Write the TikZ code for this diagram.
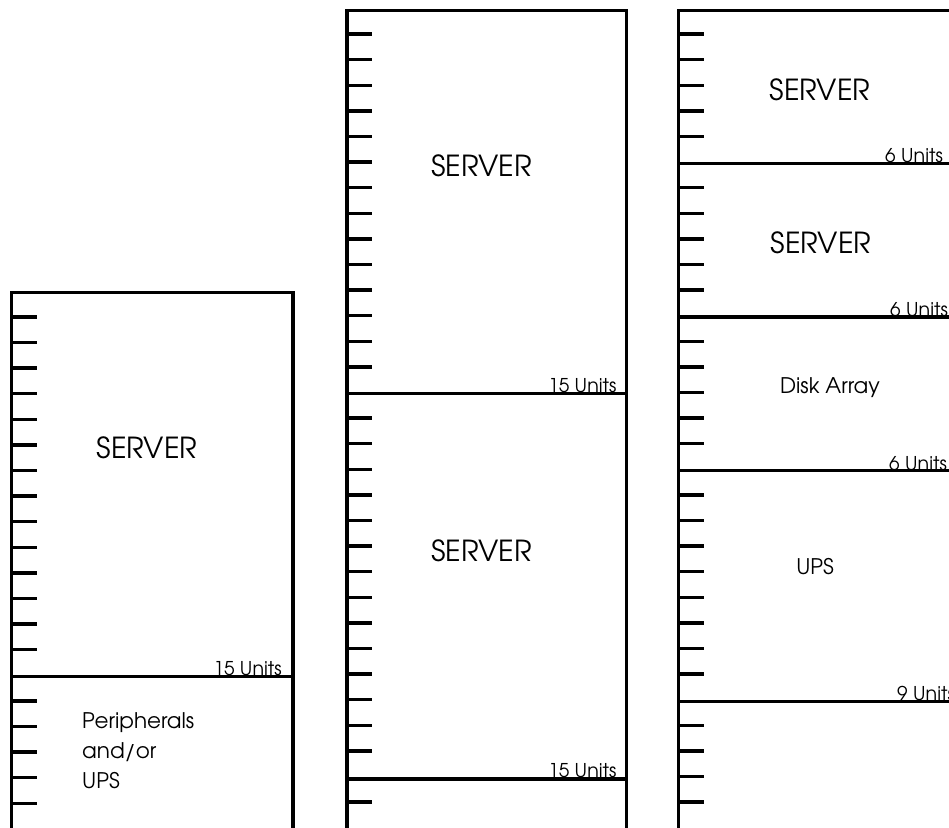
\documentclass[tikz,border=0pt]{standalone}
\usepackage{fontspec}
\setmainfont{TeX Gyre Adventor}
\begin{document}
\begin{tikzpicture}[x=1pt,y=-1pt,
  rack/.style={line width=3.3pt,line join=miter},
  tick/.style={line width=3.4pt},
  divider/.style={line width=3.3pt},
  big/.style={inner sep=0pt,anchor=base,font=\fontsize{29}{34}\selectfont},
  mid/.style={inner sep=0pt,font=\fontsize{21.5}{26}\selectfont},
  units/.style={inner sep=0pt,font=\fontsize{19}{23}\selectfont}]
\useasboundingbox (0,0) rectangle (949,827);
\clip (0,0) rectangle (949,827);
% ---------- left rack ----------
\def\u{25.6}
\draw[rack] (11.7,840) -- (11.7,292.7) -- (293,292.7) -- (293,840);
\foreach \k in {1,...,14,16,17,18,19,20}
  \draw[tick] (11.7,{292.7+\u*\k-1.5}) -- ++(25,0);
\draw[divider] (11.7,676.7) -- (293,676.7);
\node[big] (lserver) at (147,458.3) {SERVER};
\node[units,anchor=base east] (lu1) at (282,675) {15 Units};
\node[mid,anchor=base west] (lp1) at (82,728) {Peripherals};
\node[mid,anchor=base west] (lp2) at (82,758) {and/or};
\node[mid,anchor=base west] (lp3) at (82,788) {UPS};
% ---------- middle rack ----------
\draw[rack] (347,840) -- (347,10.5) -- (626.7,10.5) -- (626.7,840);
\foreach \k in {1,...,14,16,17,...,29,31}
  \draw[tick] (347,{10+\u*\k-1.5}) -- ++(25,0);
\draw[divider] (347,393.5) -- (626.7,393.5);
\draw[divider] (347,779) -- (626.7,779);
\node[big] (mserver1) at (481.7,176.7) {SERVER};
\node[big] (mserver2) at (481.7,561) {SERVER};
\node[units,anchor=base east] (mu1) at (616.7,392) {15 Units};
\node[units,anchor=base east] (mu2) at (616.7,777) {15 Units};
% ---------- right rack ----------
\draw[rack] (678.7,840) -- (678.7,10.5) -- (960,10.5);
\foreach \k in {1,...,5,7,8,...,11,13,14,...,17,19,20,...,26,28,29,30,31}
  \draw[tick] (678.7,{10+\u*\k-1.5}) -- ++(25.6,0);
\foreach \y in {163.6,317,470.8,701.5}
  \draw[divider] (678.7,\y) -- (960,\y);
\node[big] (rserver1) at (820,100) {SERVER};
\node[big] (rserver2) at (821,253) {SERVER};
\node[mid,anchor=base] (rdisk) at (830,393) {Disk Array};
\node[mid,anchor=base] (rups) at (815,574) {UPS};
\node[units,anchor=base west] (ru1) at (885,162) {6 Units};
\node[units,anchor=base west] (ru2) at (890,316) {6 Units};
\node[units,anchor=base west] (ru3) at (889,470) {6 Units};
\node[units,anchor=base west] (ru4) at (897,700) {9 Units};
\end{tikzpicture}
\end{document}
